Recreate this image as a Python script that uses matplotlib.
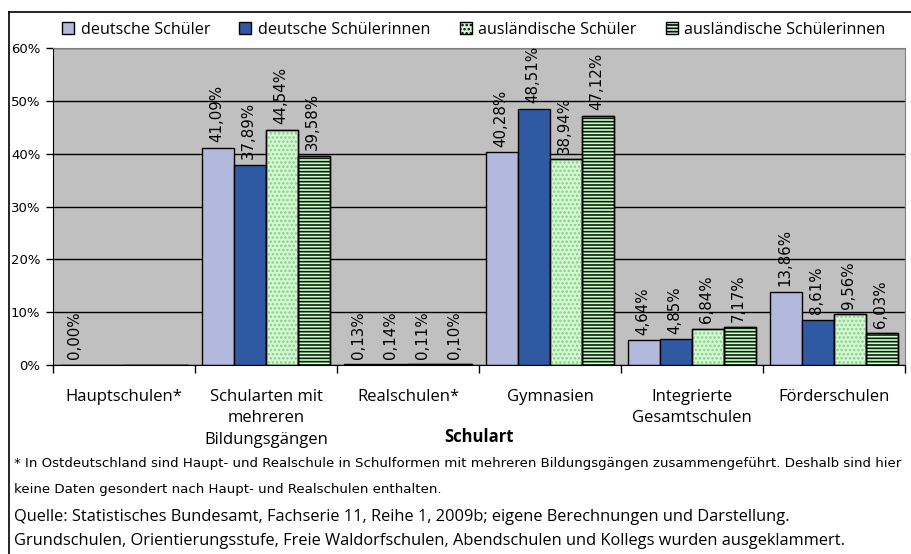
import numpy as np
import matplotlib.pyplot as plt
from matplotlib.lines import Line2D
from matplotlib.patches import Patch

categories = ['Hauptschulen*', 'Schularten mit\nmehreren\nBildungsgängen', 'Realschulen*',
              'Gymnasien', 'Integrierte\nGesamtschulen', 'Förderschulen']
series_names = ['deutsche Schüler', 'deutsche Schülerinnen',
                'ausländische Schüler', 'ausländische Schülerinnen']
de_m = [0.00, 41.09, 0.13, 40.28, 4.64, 13.86]
de_w = [np.nan, 37.89, 0.14, 48.51, 4.85, 8.61]
aus_m = [np.nan, 44.54, 0.11, 38.94, 6.84, 9.56]
aus_w = [np.nan, 39.58, 0.10, 47.12, 7.17, 6.03]
yticks = [0, 10, 20, 30, 40, 50, 60]

footnote1 = ('* In Ostdeutschland sind Haupt- und Realschule in Schulformen mit mehreren Bildungsgängen '
             'zusammengeführt. Deshalb sind hier')
footnote2 = 'keine Daten gesondert nach Haupt- und Realschulen enthalten.'
source1 = 'Quelle: Statistisches Bundesamt, Fachserie 11, Reihe 1, 2009b; eigene Berechnungen und Darstellung.'
source2 = 'Grundschulen, Orientierungsstufe, Freie Waldorfschulen, Abendschulen und Kollegs wurden ausgeklammert.'

face = ['#b3b9dc', '#2f5aa3', '#ccffcc', '#ccffcc']
hatch = [None, None, '....', '-----']
hatch_col = [None, None, '#9dbf9d', '#0a200a']

plt.rcParams['font.family'] = ['DejaVu Sans']
plt.rcParams['hatch.linewidth'] = 1.2

fig = plt.figure(figsize=(9.12, 5.54), dpi=100)
ax = fig.add_axes([53 / 912, 1 - 365 / 554, (905 - 53) / 912, (365 - 48) / 554])
ax.set_facecolor('#c0c0c0')

x = np.arange(len(categories))
w = 0.225
data = [de_m, de_w, aus_m, aus_w]
for i, vals in enumerate(data):
    xs = x + (i - 1.5) * w
    v = np.array(vals, dtype=float)
    ax.bar(xs, np.nan_to_num(v), w, color=face[i], edgecolor='black', linewidth=1, zorder=2)
    if hatch[i]:
        ax.bar(xs, np.nan_to_num(v), w, color='none', edgecolor=hatch_col[i], hatch=hatch[i],
               linewidth=0, zorder=3)
        ax.bar(xs, np.nan_to_num(v), w, color='none', edgecolor='black', linewidth=1, zorder=4)
    for xx, val in zip(xs, v):
        if np.isnan(val):
            continue
        ax.annotate(f'{val:.2f}%'.replace('.', ','), (xx, val), xytext=(-1, 4),
                    textcoords='offset points', rotation=90, ha='center', va='bottom',
                    fontsize=10.8, zorder=5)

ax.set_xlim(-0.5, len(categories) - 0.5)
ax.set_ylim(0, 60)
ax.set_yticks(yticks)
ax.set_yticklabels([f'{t}%' for t in yticks], fontsize=9.5)
ax.tick_params(axis='y', length=5, width=1, pad=4)
ax.yaxis.grid(True, color='black', linewidth=1)
ax.set_axisbelow(True)

ax.set_xticks(x)
ax.set_xticklabels(categories, fontsize=12, family='Open Sans', linespacing=1.48, va='top')
ax.set_xticks(np.arange(len(categories) + 1) - 0.5, minor=True)
ax.tick_params(axis='x', which='major', length=0, pad=17)
ax.tick_params(axis='x', which='minor', length=6, width=1, color='black')
ax.set_xlabel('Schulart', fontsize=12, fontweight='bold', family='Open Sans')
ax.xaxis.set_label_coords(0.5, -0.2)

for s in ['top', 'right']:
    ax.spines[s].set_color('#808080')
ax.spines['left'].set_color('black')
ax.spines['bottom'].set_color('black')

handles = []
for i in range(4):
    handles.append(Patch(facecolor=face[i], edgecolor='black', hatch=hatch[i]))
leg = fig.legend(handles, series_names, loc='center left', bbox_to_anchor=(62 / 912, 1 - 30 / 554),
                 ncol=4, frameon=False, prop={'family': 'Open Sans', 'size': 11.6},
                 handlelength=0.75, handleheight=0.75, handletextpad=0.4, columnspacing=1.82,
                 borderaxespad=0, borderpad=0)

# outer chart frame
fig.add_artist(Line2D([9 / 912, 1], [1 - 12 / 554] * 2, color='black', lw=1.2, transform=fig.transFigure))
fig.add_artist(Line2D([9 / 912] * 2, [0, 1 - 12 / 554], color='black', lw=1.2, transform=fig.transFigure))

fig.text(14 / 912, 1 - 463 / 554, footnote1, fontsize=9.6, va='center')
fig.text(14 / 912, 1 - 489 / 554, footnote2, fontsize=9.6, va='center')
fig.text(14 / 912, 1 - 517 / 554, source1, fontsize=11.8, family='Open Sans', va='center')
fig.text(14 / 912, 1 - 541 / 554, source2, fontsize=11.8, family='Open Sans', va='center')

fig.savefig('out.png', dpi=100)
